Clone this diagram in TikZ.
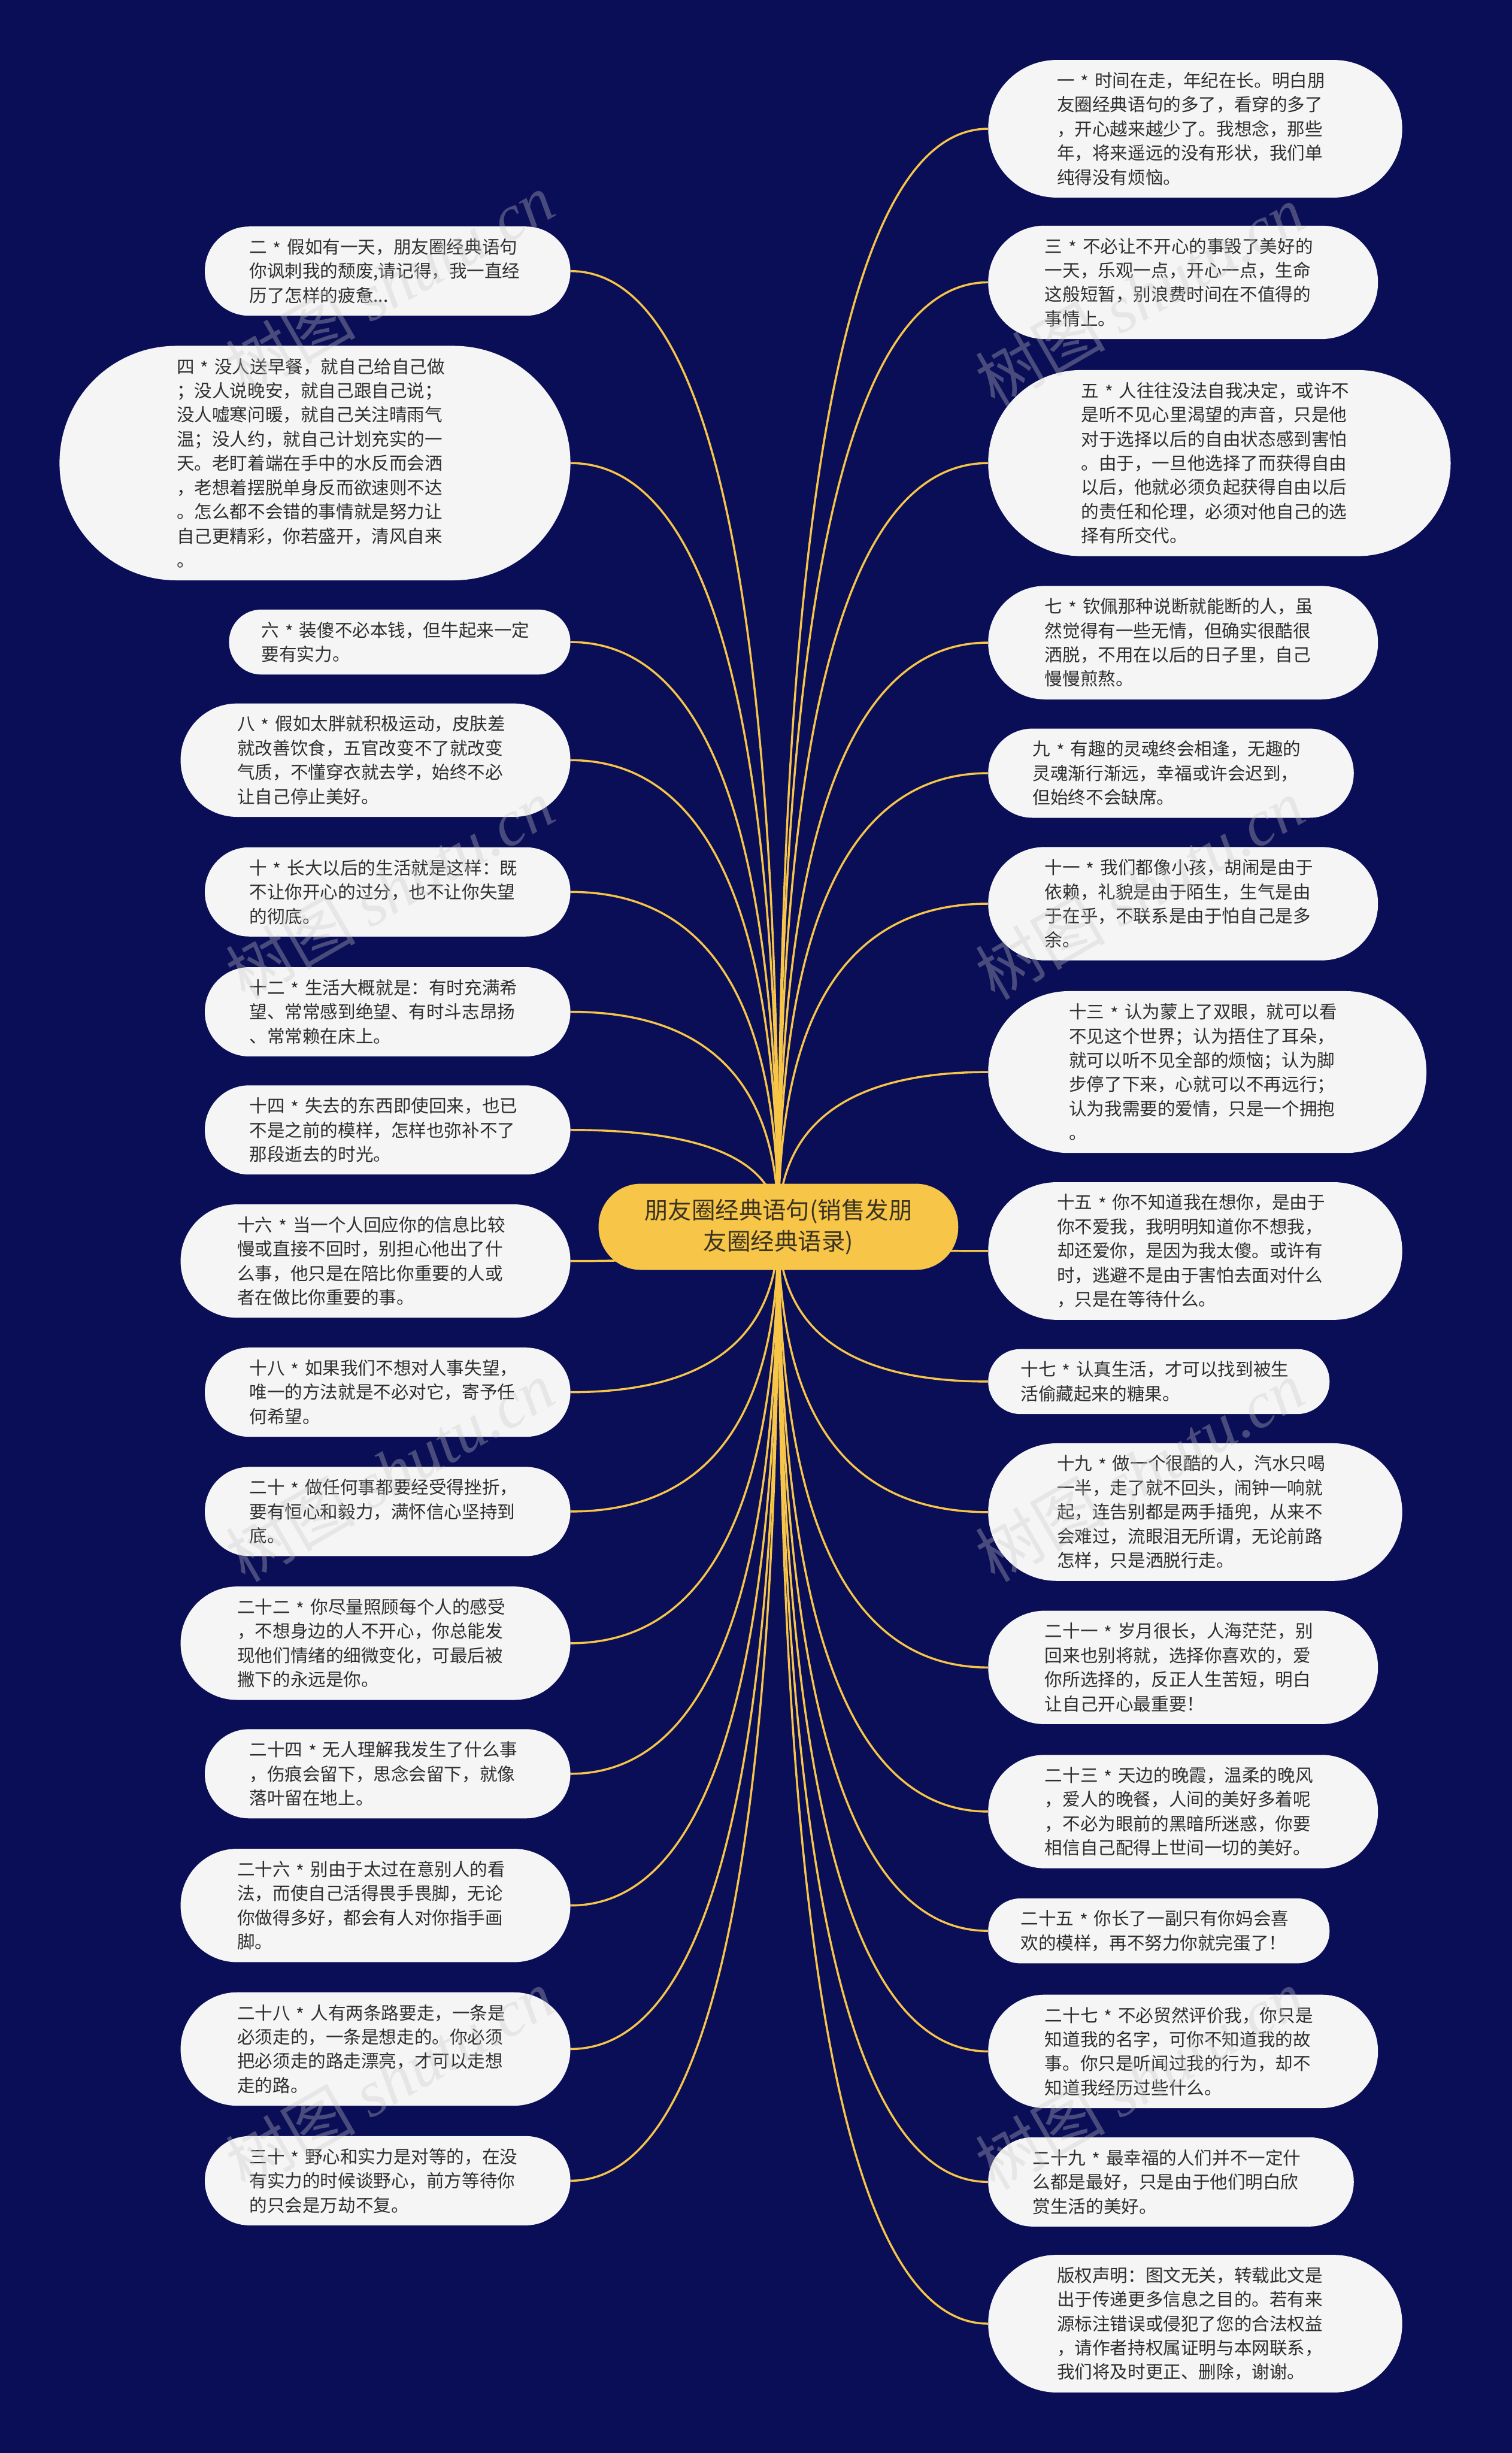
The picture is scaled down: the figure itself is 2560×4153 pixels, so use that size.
\documentclass[tikz,border=0pt]{standalone}
\usepackage{fontspec}
\setmainfont{Noto Sans CJK SC}
\newfontfamily\wmlatin{Liberation Serif}
\usetikzlibrary{calc,backgrounds}

\definecolor{bgnavy}{HTML}{0A0E57}
\definecolor{gold}{HTML}{F7C548}
\definecolor{bubblefill}{HTML}{F5F5F5}
\definecolor{inktext}{HTML}{2E2E2E}
\definecolor{centerink}{HTML}{3A3320}
\definecolor{wmgray}{HTML}{C8C8C8}

\newcommand\stx{\raisebox{-0.12em}{*}}

\tikzset{
  bubble/.style={fill=bubblefill, text=inktext, inner sep=0pt, text width=468pt, align=left,
    font=\fontsize{30pt}{41pt}\selectfont},
  root/.style={fill=gold, text=centerink, inner sep=0pt, align=center,
    font=\fontsize{40pt}{53pt}\selectfont, minimum width=609pt, minimum height=146pt, rounded corners=72pt},
  link/.style={draw=gold, line width=3.5pt,
    to path={.. controls ($(\tikztostart)!0.6667!(\tikztostart|-\tikztotarget)$) and ($(\tikztotarget)!0.6667!(\tikztostart|-\tikztotarget)$) .. (\tikztotarget)}},
  wmark/.style={text=wmgray, opacity=0.33, rotate=30, inner sep=0pt, font=\fontsize{110pt}{110pt}\selectfont}
}

\newcommand\lbub[4]{\node[bubble, anchor=east, minimum height={41*#3+28}, minimum width={41*#3+496}, rounded corners={(41*#3+28)/2-0.5}] (#1) at (966,#2) {#4};}
\newcommand\rbub[4]{\node[bubble, anchor=west, minimum height={41*#3+28}, minimum width={41*#3+496}, rounded corners={(41*#3+28)/2-0.5}] (#1) at (1673,#2) {#4};}

\begin{document}
\begin{tikzpicture}[x=1pt,y=-1pt]
\useasboundingbox (0,0) rectangle (2560,4153);

\node[root] (c) at (1318,2077) {朋友圈经典语句(销售发朋\\友圈经典语录)};

% right column
\rbub{r1}{218}{5}{一 \stx{} 时间在走，年纪在长。明白朋\\友圈经典语句的多了，看穿的多了\\，开心越来越少了。我想念，那些\\年，将来遥远的没有形状，我们单\\纯得没有烦恼。}
\rbub{r2}{478}{4}{三 \stx{} 不必让不开心的事毁了美好的\\一天，乐观一点，开心一点，生命\\这般短暂，别浪费时间在不值得的\\事情上。}
\rbub{r3}{784}{7}{五 \stx{} 人往往没法自我决定，或许不\\是听不见心里渴望的声音，只是他\\对于选择以后的自由状态感到害怕\\。由于，一旦他选择了而获得自由\\以后，他就必须负起获得自由以后\\的责任和伦理，必须对他自己的选\\择有所交代。}
\rbub{r4}{1088}{4}{七 \stx{} 钦佩那种说断就能断的人，虽\\然觉得有一些无情，但确实很酷很\\洒脱，不用在以后的日子里，自己\\慢慢煎熬。}
\rbub{r5}{1309}{3}{九 \stx{} 有趣的灵魂终会相逢，无趣的\\灵魂渐行渐远，幸福或许会迟到，\\但始终不会缺席。}
\rbub{r6}{1530}{4}{十一 \stx{} 我们都像小孩，胡闹是由于\\依赖，礼貌是由于陌生，生气是由\\于在乎，不联系是由于怕自己是多\\余。}
\rbub{r7}{1815}{6}{十三 \stx{} 认为蒙上了双眼，就可以看\\不见这个世界；认为捂住了耳朵，\\就可以听不见全部的烦恼；认为脚\\步停了下来，心就可以不再远行；\\认为我需要的爱情，只是一个拥抱\\。}
\rbub{r8}{2118}{5}{十五 \stx{} 你不知道我在想你，是由于\\你不爱我，我明明知道你不想我，\\却还爱你，是因为我太傻。或许有\\时，逃避不是由于害怕去面对什么\\，只是在等待什么。}
\rbub{r9}{2339}{2}{十七 \stx{} 认真生活，才可以找到被生\\活偷藏起来的糖果。}
\rbub{r10}{2560}{5}{十九 \stx{} 做一个很酷的人，汽水只喝\\一半，走了就不回头，闹钟一响就\\起，连告别都是两手插兜，从来不\\会难过，流眼泪无所谓，无论前路\\怎样，只是洒脱行走。}
\rbub{r11}{2823}{4}{二十一 \stx{} 岁月很长，人海茫茫，别\\回来也别将就，选择你喜欢的，爱\\你所选择的，反正人生苦短，明白\\让自己开心最重要！}
\rbub{r12}{3067}{4}{二十三 \stx{} 天边的晚霞，温柔的晚风\\，爱人的晚餐，人间的美好多着呢\\，不必为眼前的黑暗所迷惑，你要\\相信自己配得上世间一切的美好。}
\rbub{r13}{3269}{2}{二十五 \stx{} 你长了一副只有你妈会喜\\欢的模样，再不努力你就完蛋了！}
\rbub{r14}{3473}{4}{二十七 \stx{} 不必贸然评价我，你只是\\知道我的名字，可你不知道我的故\\事。你只是听闻过我的行为，却不\\知道我经历过些什么。}
\rbub{r15}{3694}{3}{二十九 \stx{} 最幸福的人们并不一定什\\么都是最好，只是由于他们明白欣\\赏生活的美好。}
\rbub{r16}{3934}{5}{版权声明：图文无关，转载此文是\\出于传递更多信息之目的。若有来\\源标注错误或侵犯了您的合法权益\\，请作者持权属证明与本网联系，\\我们将及时更正、删除，谢谢。}

% left column
\lbub{l1}{459}{3}{二 \stx{} 假如有一天，朋友圈经典语句\\你讽刺我的颓废,请记得，我一直经\\历了怎样的疲惫...}
\lbub{l2}{784}{9}{四 \stx{} 没人送早餐，就自己给自己做\\；没人说晚安，就自己跟自己说；\\没人嘘寒问暖，就自己关注晴雨气\\温；没人约，就自己计划充实的一\\天。老盯着端在手中的水反而会洒\\，老想着摆脱单身反而欲速则不达\\。怎么都不会错的事情就是努力让\\自己更精彩，你若盛开，清风自来\\。}
\lbub{l3}{1087}{2}{六 \stx{} 装傻不必本钱，但牛起来一定\\要有实力。}
\lbub{l4}{1287}{4}{八 \stx{} 假如太胖就积极运动，皮肤差\\就改善饮食，五官改变不了就改变\\气质，不懂穿衣就去学，始终不必\\让自己停止美好。}
\lbub{l5}{1510}{3}{十 \stx{} 长大以后的生活就是这样：既\\不让你开心的过分，也不让你失望\\的彻底。}
\lbub{l6}{1713}{3}{十二 \stx{} 生活大概就是：有时充满希\\望、常常感到绝望、有时斗志昂扬\\、常常赖在床上。}
\lbub{l7}{1913}{3}{十四 \stx{} 失去的东西即使回来，也已\\不是之前的模样，怎样也弥补不了\\那段逝去的时光。}
\lbub{l8}{2135}{4}{十六 \stx{} 当一个人回应你的信息比较\\慢或直接不回时，别担心他出了什\\么事，他只是在陪比你重要的人或\\者在做比你重要的事。}
\lbub{l9}{2357}{3}{十八 \stx{} 如果我们不想对人事失望，\\唯一的方法就是不必对它，寄予任\\何希望。}
\lbub{l10}{2559}{3}{二十 \stx{} 做任何事都要经受得挫折，\\要有恒心和毅力，满怀信心坚持到\\底。}
\lbub{l11}{2782}{4}{二十二 \stx{} 你尽量照顾每个人的感受\\，不想身边的人不开心，你总能发\\现他们情绪的细微变化，可最后被\\撇下的永远是你。}
\lbub{l12}{3003}{3}{二十四 \stx{} 无人理解我发生了什么事\\，伤痕会留下，思念会留下，就像\\落叶留在地上。}
\lbub{l13}{3226}{4}{二十六 \stx{} 别由于太过在意别人的看\\法，而使自己活得畏手畏脚，无论\\你做得多好，都会有人对你指手画\\脚。}
\lbub{l14}{3469}{4}{二十八 \stx{} 人有两条路要走，一条是\\必须走的，一条是想走的。你必须\\把必须走的路走漂亮，才可以走想\\走的路。}
\lbub{l15}{3692}{3}{三十 \stx{} 野心和实力是对等的，在没\\有实力的时候谈野心，前方等待你\\的只会是万劫不复。}

\begin{pgfonlayer}{background}
  \fill[bgnavy] (0,0) rectangle (2560,4153);
  \foreach \n in {r1,r2,r3,r4,r5,r6,r7,r8,r9,r10,r11,r12,r13,r14,r15,r16}
    \draw[link] (c.center) to (\n.west);
  \foreach \n in {l1,l2,l3,l4,l5,l6,l7,l8,l9,l10,l11,l12,l13,l14,l15}
    \draw[link] (c.center) to (\n.east);
\end{pgfonlayer}

% watermarks
\node[wmark] (w1) at (660,480) {树图 {\wmlatin\itshape shutu.cn}};
\node[wmark] (w2) at (1930,500) {树图 {\wmlatin\itshape shutu.cn}};
\node[wmark] (w3) at (660,1505) {树图 {\wmlatin\itshape shutu.cn}};
\node[wmark] (w4) at (1930,1505) {树图 {\wmlatin\itshape shutu.cn}};
\node[wmark] (w5) at (660,2490) {树图 {\wmlatin\itshape shutu.cn}};
\node[wmark] (w6) at (1930,2490) {树图 {\wmlatin\itshape shutu.cn}};
\node[wmark] (w7) at (660,3520) {树图 {\wmlatin\itshape shutu.cn}};
\node[wmark] (w8) at (1930,3520) {树图 {\wmlatin\itshape shutu.cn}};
\end{tikzpicture}
\end{document}
